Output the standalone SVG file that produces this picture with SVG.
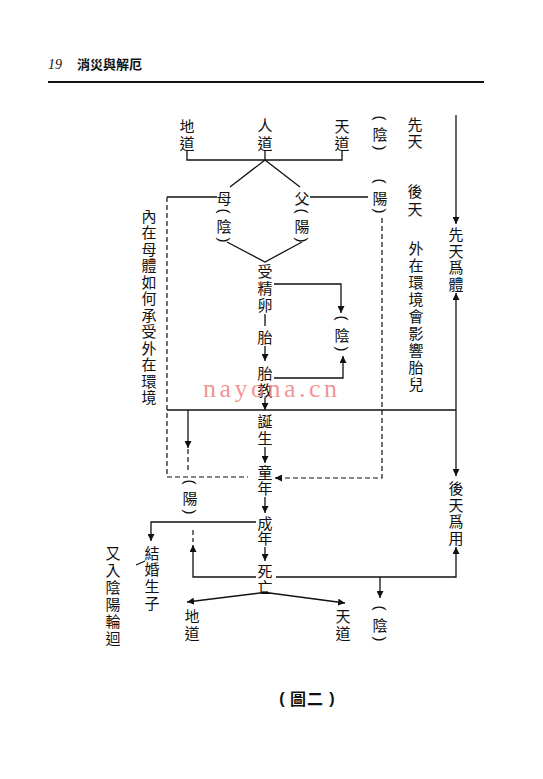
<svg xmlns="http://www.w3.org/2000/svg" width="543" height="779" viewBox="0 0 543 779">
<defs>
<style>
.t{font-family:"Noto Sans CJK TC","Noto Sans CJK SC",sans-serif;font-size:15px;text-anchor:middle;dominant-baseline:central;fill:#111}
.p{font-family:"Liberation Sans",sans-serif;font-size:15px;text-anchor:middle;dominant-baseline:central;fill:#111}
.l{fill:none;stroke:#111;stroke-width:1.3}
.d{fill:none;stroke:#111;stroke-width:1.2;stroke-dasharray:5,3}
</style>
<marker id="a" viewBox="0 0 10 10" refX="10" refY="5" markerWidth="7" markerHeight="7" markerUnits="userSpaceOnUse" orient="auto">
<path d="M0,0 L10,5 L0,10 z" fill="#111"/>
</marker>
</defs>
<rect width="543" height="779" fill="#fff"/>

<g id="header">
<text x="48" y="69" font-family="Liberation Serif,serif" font-style="italic" font-size="14" fill="#111">19</text>
<text x="77" y="69" font-family="Noto Sans CJK TC,sans-serif" font-weight="bold" font-size="13" fill="#111">消災與解厄</text>
<line x1="48" y1="82" x2="484" y2="82" stroke="#111" stroke-width="2"/>
</g>

<g id="connectors">
<!-- top tree -->
<path class="l" d="M187,150 V160 H342 V150 M265,150 V160"/>
<path class="l" d="M265,160 L230,187 M265,160 L300,187"/>
<path class="l" d="M217,197 H167"/>
<path class="l" d="M310,197 H368"/>
<path class="l" d="M227,242 L265,262 L302,242"/>
<!-- dashed box -->
<path class="d" d="M167,197 V477 H248"/>
<path class="d" d="M382,218 V478 H280"/>
<line class="l" x1="282" y1="478" x2="275" y2="478" marker-end="url(#a)"/>
<!-- 先天 arrow -->
<line class="l" x1="456" y1="115" x2="456" y2="224" marker-end="url(#a)"/>
<line class="l" x1="456" y1="410" x2="456" y2="293" marker-end="url(#a)"/>
<line class="l" x1="456" y1="410" x2="456" y2="476" marker-end="url(#a)"/>
<!-- 受精卵 side -->
<path class="l" d="M274,284 H341 V313" marker-end="url(#a)"/>
<path class="l" d="M274,378 H343 V356" marker-end="url(#a)"/>
<!-- main column -->
<line class="l" x1="265" y1="314" x2="265" y2="326"/>
<line class="l" x1="265" y1="346" x2="265" y2="361" marker-end="url(#a)"/>
<line class="l" x1="265" y1="398" x2="265" y2="410" marker-end="url(#a)"/>
<line class="l" x1="265" y1="447" x2="265" y2="463" marker-end="url(#a)"/>
<line class="l" x1="265" y1="497" x2="265" y2="513" marker-end="url(#a)"/>
<line class="l" x1="265" y1="547" x2="265" y2="561" marker-end="url(#a)"/>
<!-- big horizontal -->
<line class="l" x1="167" y1="410" x2="456" y2="410"/>
<line class="l" x1="188" y1="410" x2="188" y2="448" marker-end="url(#a)"/>
<path class="d" d="M188,449 V472"/>
<path class="d" d="M193,530 V542"/>
<!-- 成年 to 結婚生子 -->
<path class="l" d="M256,522 H151 V541" marker-end="url(#a)"/>
<path class="l" d="M136,565 L145,561"/>
<!-- 死亡 lines -->
<path class="l" d="M256,577 H193 V545" marker-end="url(#a)"/>
<path class="l" d="M276,577 H456 V547" marker-end="url(#a)"/>
<line class="l" x1="380" y1="577" x2="380" y2="598" marker-end="url(#a)"/>
<path class="l" d="M268,592 L187,602" marker-end="url(#a)"/>
<path class="l" d="M262,592 L345,603" marker-end="url(#a)"/>
</g>

<g id="n-didao-top"><text class="t" x="187" y="125">地</text><text class="t" x="187" y="142">道</text></g>
<g id="n-rendao"><text class="t" x="265" y="124">人</text><text class="t" x="265" y="142">道</text></g>
<g id="n-tiandao-top"><text class="t" x="342" y="125">天</text><text class="t" x="342" y="142">道</text></g>
<g id="n-yin-top"><text class="p" transform="translate(380,118) rotate(90)">(</text><text class="t" x="380" y="133">陰</text><text class="p" transform="translate(380,148) rotate(90)">)</text></g>
<g id="n-xiantian"><text class="t" x="415" y="123">先</text><text class="t" x="415" y="140">天</text></g>
<g id="n-yang-top"><text class="p" transform="translate(380,181) rotate(90)">(</text><text class="t" x="380" y="197">陽</text><text class="p" transform="translate(380,211) rotate(90)">)</text></g>
<g id="n-houtian"><text class="t" x="415" y="190">後</text><text class="t" x="415" y="208">天</text></g>
<g id="n-waizai">
<text class="t" x="416" y="247">外</text><text class="t" x="416" y="264">在</text><text class="t" x="416" y="281">環</text><text class="t" x="416" y="298">境</text><text class="t" x="416" y="315">會</text><text class="t" x="416" y="332">影</text><text class="t" x="416" y="349">響</text><text class="t" x="416" y="366">胎</text><text class="t" x="416" y="383">兒</text>
</g>
<g id="n-xiantianweiti"><text class="t" x="456" y="233">先</text><text class="t" x="456" y="250">天</text><text class="t" x="456" y="266">爲</text><text class="t" x="456" y="283">體</text></g>
<g id="n-houtianweiyong"><text class="t" x="456" y="487">後</text><text class="t" x="456" y="504">天</text><text class="t" x="456" y="520">爲</text><text class="t" x="456" y="537">用</text></g>

<g id="n-mu"><text class="t" x="224" y="197">母</text></g>
<g id="n-fu"><text class="t" x="302" y="197">父</text></g>
<g id="n-mu-yin"><text class="p" transform="translate(224,211) rotate(90)">(</text><text class="t" x="224" y="225">陰</text><text class="p" transform="translate(224,240) rotate(90)">)</text></g>
<g id="n-fu-yang"><text class="p" transform="translate(302,211) rotate(90)">(</text><text class="t" x="302" y="225">陽</text><text class="p" transform="translate(302,240) rotate(90)">)</text></g>

<g id="n-neizai">
<text class="t" x="149" y="215">內</text><text class="t" x="149" y="231.5">在</text><text class="t" x="149" y="248">母</text><text class="t" x="149" y="264.5">體</text><text class="t" x="149" y="281">如</text><text class="t" x="149" y="297.5">何</text><text class="t" x="149" y="314">承</text><text class="t" x="149" y="330.5">受</text><text class="t" x="149" y="347">外</text><text class="t" x="149" y="363.5">在</text><text class="t" x="149" y="380">環</text><text class="t" x="149" y="396.5">境</text>
</g>

<g id="n-shoujingluan"><text class="t" x="265" y="270">受</text><text class="t" x="265" y="287">精</text><text class="t" x="265" y="304">卵</text></g>
<g id="n-tai"><text class="t" x="265" y="336">胎</text></g>
<g id="n-taijiao"><text class="t" x="265" y="372">胎</text><text class="t" x="265" y="389">教</text></g>
<g id="n-yin-mid"><text class="p" transform="translate(342,318) rotate(90)">(</text><text class="t" x="342" y="334">陰</text><text class="p" transform="translate(342,349) rotate(90)">)</text></g>
<g id="n-dansheng"><text class="t" x="265" y="420">誕</text><text class="t" x="265" y="437">生</text></g>
<g id="n-tongnian"><text class="t" x="265" y="471">童</text><text class="t" x="265" y="487">年</text></g>
<g id="n-yang-left"><text class="p" transform="translate(190,482) rotate(90)">(</text><text class="t" x="190" y="497">陽</text><text class="p" transform="translate(190,512) rotate(90)">)</text></g>
<g id="n-chengnian"><text class="t" x="265" y="522">成</text><text class="t" x="265" y="537">年</text></g>
<g id="n-siwang"><text class="t" x="265" y="570">死</text><text class="t" x="265" y="586">亡</text></g>
<g id="n-jiehun"><text class="t" x="152" y="552">結</text><text class="t" x="152" y="568">婚</text><text class="t" x="152" y="585">生</text><text class="t" x="152" y="602">子</text></g>
<g id="n-youru"><text class="t" x="113" y="552">又</text><text class="t" x="113" y="569">入</text><text class="t" x="113" y="586">陰</text><text class="t" x="113" y="603">陽</text><text class="t" x="113" y="620">輪</text><text class="t" x="113" y="637">迴</text></g>
<g id="n-didao-bottom"><text class="t" x="192" y="615">地</text><text class="t" x="192" y="632">道</text></g>
<g id="n-tiandao-bottom"><text class="t" x="343" y="615">天</text><text class="t" x="343" y="632">道</text></g>
<g id="n-yin-bottom"><text class="p" transform="translate(380,608) rotate(90)">(</text><text class="t" x="380" y="624">陰</text><text class="p" transform="translate(380,639) rotate(90)">)</text></g>

<g id="caption">
<text x="282" y="698" font-family="Liberation Sans,sans-serif" font-size="16" font-weight="bold" text-anchor="middle" dominant-baseline="central" fill="#111">(</text>
<text x="298" y="698" font-family="Noto Sans CJK TC,sans-serif" font-size="16" font-weight="bold" text-anchor="middle" dominant-baseline="central" fill="#111">圖</text>
<text x="315" y="698" font-family="Noto Sans CJK TC,sans-serif" font-size="16" font-weight="bold" text-anchor="middle" dominant-baseline="central" fill="#111">二</text>
<text x="332" y="698" font-family="Liberation Sans,sans-serif" font-size="16" font-weight="bold" text-anchor="middle" dominant-baseline="central" fill="#111">)</text>
</g>

<g id="watermark">
<text x="203" y="397" font-family="Liberation Serif,serif" font-size="26" textLength="134" lengthAdjust="spacing" fill="#ef8080" fill-opacity="0.85">nayona.cn</text>
</g>
</svg>
